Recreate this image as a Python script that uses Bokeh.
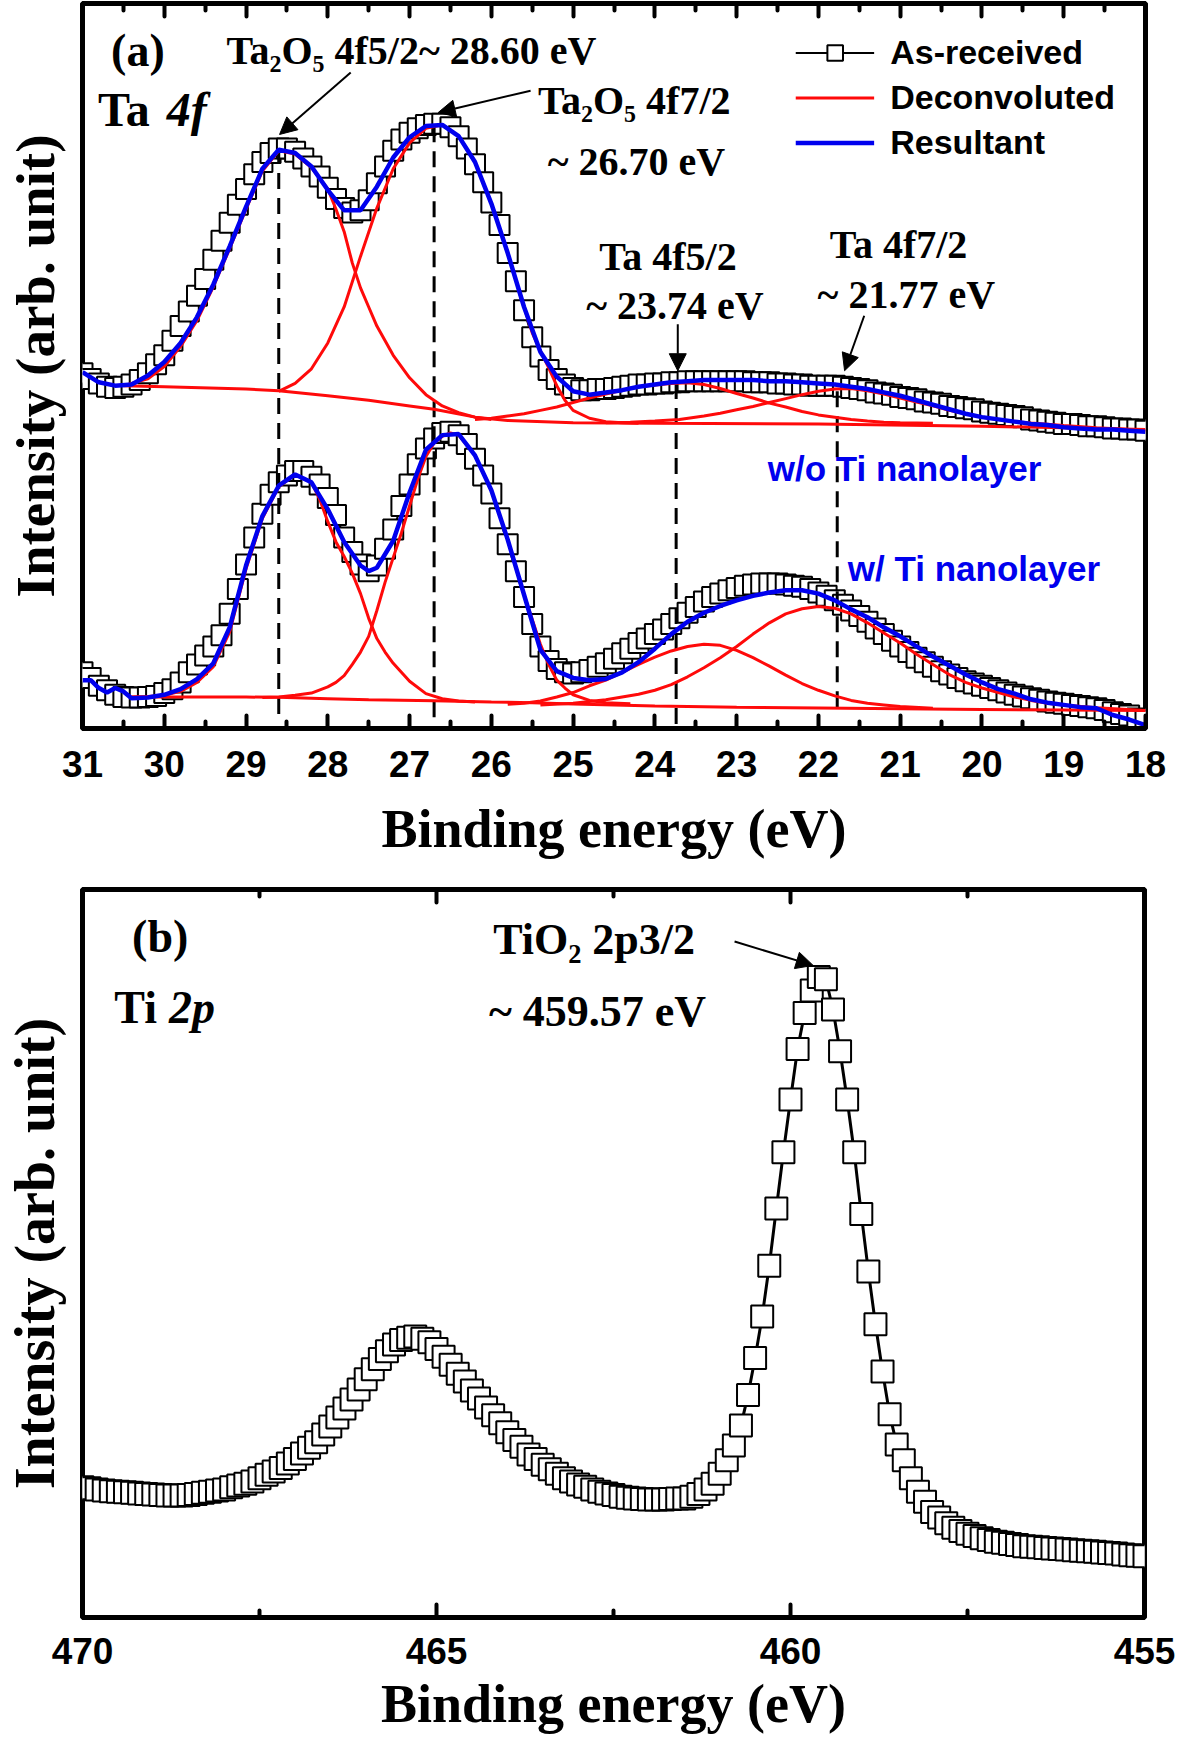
import numpy as np
from bokeh.plotting import figure
from bokeh.models import (Range1d, FixedTicker, LinearAxis, Label, Arrow, NormalHead,
                          Legend, LegendItem)
from bokeh.layouts import column
from bokeh.embed import file_html
from bokeh.resources import INLINE

# ---------------------------------------------------------------- data (a) Ta 4f
energy_a = np.round(np.arange(31.0, 17.95, -0.1), 1)          # 31.0 ... 18.0 eV

asrec_wo_ti = [
    316, 311, 307, 304, 303, 304, 306, 310, 316, 324,
    332, 345, 358, 371, 385, 400, 417, 434, 450, 466,
    480, 493, 504, 512, 516, 516, 513, 507, 500, 491,
    481, 471, 463, 459, 461, 470, 485, 500, 514, 524,
    530, 534, 537, 538, 538, 535, 527, 516, 502, 486,
    468, 448, 423, 398, 372, 348, 331, 319, 311, 306,
    303, 301, 301, 302, 302, 303, 304, 305, 306, 306,
    307, 307, 308, 308, 309, 309, 309, 309, 309, 309,
    309, 309, 308, 308, 308, 307, 307, 306, 306, 305,
    305, 305, 305, 304, 303, 302, 301, 299, 298, 297,
    295, 294, 293, 291, 290, 289, 287, 286, 285, 284,
    282, 281, 280, 279, 278, 277, 275, 274, 273, 272,
    271, 271, 270, 269, 269, 268, 267, 267, 266, 266,
    265]

asrec_w_ti = [
    50, 45, 38, 34, 30, 28, 27.5, 27.5, 28, 29,
    31.5, 35, 41, 50, 57, 65, 73, 83, 102, 124,
    146, 170, 191, 208, 219, 225, 229, 229, 224, 217,
    205, 190, 170, 157, 146, 140, 145, 160, 177, 198,
    217, 235, 249, 258, 263, 264, 261, 253, 240, 225,
    209, 187, 164, 140, 117, 93, 73, 60, 53, 50,
    49, 50, 52, 55, 58, 62, 67, 71, 76, 80,
    84, 88, 93, 98, 103, 108, 113, 117, 120, 123,
    125, 127, 128, 129, 129, 129, 128, 127, 126, 124,
    121, 118, 114, 110, 105, 100, 95, 89, 84, 78,
    73, 68, 63, 59, 55, 51, 48, 45, 42, 40,
    38, 36, 34, 32, 30, 28.5, 27, 25.5, 24, 23,
    22, 21, 20, 19, 18, 16.5, 14.5, 13, 11.5, 9,
    7]

# resultant (blue) curves
res_wo_ti_E = np.round(np.arange(31.0, 17.9, -0.2), 1)
res_wo_ti = [317, 308, 305, 306, 314, 326, 343, 366, 395, 429,
             464, 498, 515, 512, 500, 479, 461, 461, 482, 508,
             526, 536, 537, 527, 504, 467, 423, 375, 335, 313,
             300, 297, 299, 301, 304, 306, 308, 309, 310, 310,
             310, 310, 309, 309, 308, 307, 306, 304, 302, 299,
             296, 292, 288, 284, 280, 277, 275, 273, 271, 270,
             268, 267, 266, 266, 265, 264]

res_w_ti_E = [31.0, 30.9, 30.8, 30.7, 30.6, 30.5, 30.4, 30.2, 30.0, 29.8,
              29.6, 29.4, 29.2, 29.0, 28.8, 28.6, 28.4, 28.2, 28.0, 27.8,
              27.6, 27.5, 27.4, 27.2, 27.0, 26.8, 26.6, 26.4, 26.2, 26.0,
              25.8, 25.6, 25.4, 25.2, 25.0, 24.8, 24.6, 24.4, 24.2, 24.0,
              23.8, 23.6, 23.4, 23.2, 23.0, 22.8, 22.6, 22.4, 22.2, 22.0,
              21.8, 21.6, 21.4, 21.2, 21.0, 20.8, 20.6, 20.4, 20.2, 20.0,
              19.8, 19.6, 19.4, 19.2, 19.0, 18.8, 18.6, 18.4, 18.2, 18.0]
res_w_ti = [43, 43, 36, 32, 36, 33, 27, 27.5, 30, 35,
            44, 58, 90, 145, 189, 216, 226, 219, 195, 166,
            145, 140, 143, 167, 210, 248, 261, 262, 243, 212,
            168, 119, 70, 51, 45, 43, 44, 50, 59, 71,
            84, 95, 103, 109, 114, 118, 121, 123, 123, 120,
            114, 106, 99, 90, 82, 73, 64, 56, 48, 41,
            35, 31, 26, 23, 21, 19, 18, 12, 8, 3]

# deconvoluted (red) components, w/o Ti nanolayer
bg_wo_E = [30.5, 30.0, 29.0, 28.6, 28.0, 27.5, 27.0, 26.7, 26.2, 25.8, 25.0, 24.0, 22.0, 20.0, 19.0, 18.0]
bg_wo = [305, 304, 302, 300.5, 296, 292, 287, 284, 277, 274, 272, 271.5, 271, 269, 267.5, 266]

ox52_wo_E = [30.5, 30.2, 30.0, 29.8, 29.6, 29.4, 29.2, 29.0, 28.8, 28.6, 28.4, 28.2, 28.0,
             27.9, 27.8, 27.7, 27.6, 27.5, 27.4, 27.2, 27.0, 26.8, 26.6, 26.4, 26.2, 26.0]
ox52_wo = [305, 311, 322, 340, 363, 393, 427, 462, 496, 514, 511, 499, 480,
           462, 442, 414, 392, 375, 358, 332, 312, 297, 287, 281, 277, 275]

ox72_wo_E = [28.6, 28.4, 28.2, 28.0, 27.8, 27.6, 27.4, 27.2, 27.0, 26.8, 26.6, 26.4, 26.2,
             26.0, 25.8, 25.6, 25.5, 25.4, 25.3, 25.2, 25.1, 25.0, 24.8, 24.6, 24.4, 24.2]
ox72_wo = [300, 307, 320, 343, 375, 420, 463, 498, 521, 534, 537, 527, 504,
           467, 423, 375, 352, 336, 321, 305, 292, 283, 276, 273, 272, 271.5]

m52_wo_E = [26.2, 26.0, 25.8, 25.6, 25.4, 25.2, 25.0, 24.8, 24.6, 24.4, 24.2, 24.0, 23.8, 23.6,
            23.4, 23.2, 23.0, 22.8, 22.6, 22.4, 22.2, 22.0, 21.8, 21.6, 21.4, 21.2, 21.0, 20.6]
m52_wo = [275, 276, 278, 280, 283, 286, 290, 294, 297.5, 301, 304, 305.5, 307, 307.5,
          306, 302.5, 298, 294, 289.5, 286, 282, 279, 277, 275, 273.5, 272.5, 272, 271.5]

m72_wo_E = [24.6, 24.3, 24.0, 23.7, 23.4, 23.2, 23.0, 22.8, 22.6, 22.4, 22.2, 22.0, 21.8, 21.6, 21.4,
            21.2, 21.0, 20.8, 20.6, 20.4, 20.2, 20.0, 19.8, 19.6, 19.4, 19.0, 18.6, 18.3, 18.0]
m72_wo = [272, 272.4, 273.5, 275, 278, 280.5, 283.5, 286.5, 290, 293.5, 297, 300, 302, 302.5, 300.5,
          297.5, 294, 290.5, 287, 283, 280, 277, 275, 273, 271.8, 269.5, 267.5, 266.5, 265]

# deconvoluted (red) components, w/ Ti nanolayer
bg_w_E = [30.4, 30.0, 29.0, 28.6, 28.0, 27.5, 26.7, 26.0, 25.5, 25.0, 24.0, 23.0, 22.0, 21.0, 20.0, 19.0, 18.0]
bg_w = [28, 28, 28, 27.7, 26.5, 25.5, 24.7, 23.5, 23, 21.7, 20, 19, 18.3, 17.5, 17, 16.5, 16]

ox52_w_E = [30.4, 30.2, 30.0, 29.8, 29.6, 29.4, 29.2, 29.0, 28.8, 28.6, 28.4, 28.2, 28.1, 28.0,
            27.9, 27.8, 27.7, 27.6, 27.5, 27.4, 27.3, 27.2, 27.0, 26.8, 26.6, 26.4, 26.2]
ox52_w = [28, 28.5, 29.5, 33, 41, 55, 86, 142, 187, 215, 226, 219, 204, 184,
          166, 153, 138, 120, 98, 80, 68, 58, 42, 31, 26.5, 24.5, 23.5]

ox72_w_E = [28.8, 28.6, 28.4, 28.2, 28.0, 27.9, 27.8, 27.7, 27.6, 27.5, 27.4, 27.3, 27.2, 27.1, 27.0,
            26.9, 26.8, 26.7, 26.6, 26.5, 26.4, 26.2, 26.0, 25.8, 25.6, 25.4, 25.3, 25.2, 25.1, 25.0,
            24.8, 24.6, 24.3]
ox72_w = [27.5, 28, 29.5, 31.5, 37, 41, 47, 57, 68, 82, 105, 130, 152, 174, 198,
          222, 242, 254, 260, 263, 261, 243, 212, 168, 119, 75, 57, 43, 36, 30,
          25, 23, 22]

m52_w_E = [25.8, 25.6, 25.4, 25.2, 25.0, 24.8, 24.6, 24.4, 24.2, 24.0, 23.8, 23.6, 23.4,
           23.2, 23.0, 22.8, 22.6, 22.4, 22.2, 22.0, 21.8, 21.6, 21.4, 21.2, 21.0, 20.6]
m52_w = [21.5, 22.5, 24.5, 28, 32, 38, 43, 50, 57, 63.5, 69, 73, 75,
         74, 69.5, 63, 55.5, 47.5, 40, 34, 29, 25, 22.5, 21, 19.5, 18]

m72_w_E = [25.4, 25.0, 24.6, 24.2, 24.0, 23.8, 23.6, 23.4, 23.2, 23.0, 22.8, 22.6, 22.4, 22.2, 22.0, 21.8,
           21.6, 21.4, 21.2, 21.0, 20.8, 20.6, 20.4, 20.2, 20.0, 19.8, 19.6, 19.4, 19.2, 19.0, 18.6, 18.0]
m72_w = [21, 22.5, 25.5, 30.5, 34, 39, 46, 54, 63, 73, 84, 94, 102, 106.5, 108.5, 107,
         102, 94, 85, 76, 66, 57, 48, 41, 36, 32, 28, 25, 22.5, 21, 18.5, 16]

# peak markers (dashed guides)
peak_E = [28.60, 26.70, 23.74, 21.77]
peak_top = [513, 536, 311, 305]
peak_bottom = [13, 10, 4, 19]

ticks_a = [31, 30, 29, 28, 27, 26, 25, 24, 23, 22, 21, 20, 19, 18]
minor_a = [30.5, 29.5, 28.5, 27.5, 26.5, 25.5, 24.5, 23.5, 22.5, 21.5, 20.5, 19.5, 18.5]

# ---------------------------------------------------------------- data (b) Ti 2p
energy_b = np.round(np.arange(470.0, 454.95, -0.1), 1)        # 470.0 ... 455.0 eV
asrec_ti2p = [
    80, 79, 78, 77, 76.5, 76, 75.5, 75, 74.5, 74,
    73.5, 73, 72.5, 72.5, 72.5, 73, 74, 75, 76, 77,
    78, 80, 81.5, 83, 85, 88, 91, 94, 97, 101,
    105, 110, 115, 120, 127, 134, 142, 150, 158, 167,
    176, 185, 194, 201, 207, 211, 213, 214, 212, 209,
    203, 196, 189, 181, 174, 166, 159, 151, 144, 137,
    129, 122, 116, 109, 105, 100, 96, 92, 88, 85,
    82.5, 80.5, 78, 76, 74.5, 73, 71.5, 70.5, 70, 69.5,
    69, 69, 69, 69.5, 70, 70, 71.5, 74, 78, 83,
    92, 104, 117, 135, 162, 195, 232, 277, 328, 378,
    425, 470, 502, 522, 534, 532, 505, 468, 425, 378,
    323, 272, 225, 183, 145, 118, 104, 88, 76, 67,
    58, 53, 48, 44, 41, 38.5, 36.5, 34.5, 33, 31.5,
    30.5, 29.5, 28.5, 27.5, 27, 26.5, 26, 25.5, 25, 24.5,
    24, 23.5, 23, 22.5, 22, 21.5, 21, 20, 19.5, 19,
    18.5]
ticks_b = [470, 465, 460, 455]
minor_b = [467.5, 462.5, 457.5]

# ---------------------------------------------------------------- styles
RED = "#ff0a0a"
BLUE = "#0000ee"
SERIF = "Liberation Serif"
SANS = "Liberation Sans"


def style_frame(p):
    p.outline_line_color = "black"
    p.outline_line_width = 5
    p.xgrid.visible = False
    p.ygrid.visible = False
    p.background_fill_color = "white"
    p.border_fill_color = "white"


def style_xaxis(ax, ticks, minor, lab_standoff, title_standoff, show_labels=True):
    ax.ticker = FixedTicker(ticks=ticks, minor_ticks=minor)
    ax.axis_line_color = "black"
    ax.axis_line_width = 5
    ax.major_tick_in = 13
    ax.major_tick_out = 0
    ax.major_tick_line_width = 4
    ax.major_tick_line_cap = "round"
    ax.minor_tick_in = 7
    ax.minor_tick_out = 0
    ax.minor_tick_line_width = 4
    ax.minor_tick_line_cap = "round"
    if show_labels:
        ax.major_label_text_font = SANS
        ax.major_label_text_font_style = "bold"
        ax.major_label_text_font_size = "37px"
        ax.major_label_text_color = "black"
        ax.major_label_standoff = lab_standoff
        ax.axis_label = "Binding energy (eV)"
        ax.axis_label_text_font = SERIF
        ax.axis_label_text_font_style = "bold"
        ax.axis_label_text_font_size = "54px"
        ax.axis_label_text_color = "black"
        ax.axis_label_standoff = title_standoff
    else:
        ax.major_label_text_font_size = "0px"
        ax.major_label_text_color = None
        ax.major_label_standoff = 0


def style_yaxis(ax, size, standoff):
    ax.ticker = FixedTicker(ticks=[])
    ax.axis_line_color = None
    ax.major_tick_line_color = None
    ax.minor_tick_line_color = None
    ax.major_label_text_font_size = "0px"
    ax.major_label_standoff = 0
    ax.axis_label = "Intensity (arb. unit)"
    ax.axis_label_text_font = SERIF
    ax.axis_label_text_font_style = "bold"
    ax.axis_label_text_font_size = size
    ax.axis_label_text_color = "black"
    ax.axis_label_standoff = standoff


def add_label(p, x, y, text, size, font=SERIF, style="bold", color="black"):
    # y is the text baseline
    p.add_layout(Label(x=x, y=y, text=text, text_font=font, text_font_style=style,
                       text_font_size=size, text_color=color, text_align="left",
                       text_baseline="alphabetic"))


def add_arrow(p, xs, ys, xe, ye):
    p.add_layout(Arrow(end=NormalHead(size=17, fill_color="black", line_color="black", line_width=1),
                       x_start=xs, y_start=ys, x_end=xe, y_end=ye,
                       line_color="black", line_width=2))


# ---------------------------------------------------------------- panel (a)
pa = figure(frame_width=1063, frame_height=725, x_range=Range1d(31, 18), y_range=Range1d(0, 645),
            output_backend="svg", toolbar_location=None,
            min_border_left=80, min_border_right=32, min_border_top=3, min_border_bottom=150)
style_frame(pa)
style_xaxis(pa.xaxis[0], ticks_a, minor_a, 22, 19)
top_a = LinearAxis()
style_xaxis(top_a, ticks_a, minor_a, 0, 0, show_labels=False)
pa.add_layout(top_a, "above")
style_yaxis(pa.yaxis[0], "55px", 17)

# as-received spectra
l_up = pa.line(energy_a, asrec_wo_ti, line_color="black", line_width=2)
s_up = pa.scatter(energy_a, asrec_wo_ti, marker="square", size=20, fill_color="white",
                  line_color="black", line_width=2)
pa.line(energy_a, asrec_w_ti, line_color="black", line_width=2)
pa.scatter(energy_a, asrec_w_ti, marker="square", size=20, fill_color="white",
           line_color="black", line_width=2)

# dashed peak guides
pa.segment(x0=peak_E, y0=peak_bottom, x1=peak_E, y1=peak_top, line_color="black",
           line_width=3, line_dash="16 9")

# deconvoluted components
red_r = None
for xs, ys in [(bg_wo_E, bg_wo), (ox52_wo_E, ox52_wo), (ox72_wo_E, ox72_wo), (m52_wo_E, m52_wo),
               (m72_wo_E, m72_wo), (bg_w_E, bg_w), (ox52_w_E, ox52_w), (ox72_w_E, ox72_w),
               (m52_w_E, m52_w), (m72_w_E, m72_w)]:
    r = pa.line(xs, ys, line_color=RED, line_width=3)
    if red_r is None:
        red_r = r

# resultant
blue_r = pa.line(res_wo_ti_E, res_wo_ti, line_color=BLUE, line_width=4.5)
pa.line(res_w_ti_E, res_w_ti, line_color=BLUE, line_width=4.5)

legend = Legend(items=[LegendItem(label="As-received", renderers=[l_up, s_up]),
                       LegendItem(label="Deconvoluted", renderers=[red_r]),
                       LegendItem(label="Resultant", renderers=[blue_r])],
                location="top_right", margin=30, padding=4, spacing=6,
                glyph_width=79, glyph_height=39, label_height=39, label_standoff=16,
                label_text_font=SANS, label_text_font_style="bold", label_text_font_size="34px",
                label_text_color="black", border_line_color=None, background_fill_alpha=0)
pa.add_layout(legend)

# annotations (a)  (x = left edge in eV, y = baseline)
add_label(pa, 30.65, 603, "(a)", "46px")
add_label(pa, 30.81, 551, "Ta", "48px")
add_label(pa, 29.97, 551, "4f", "48px", style="bold italic")
add_label(pa, 29.24, 603, "Ta\u2082O\u2085 4f5/2~ 28.60 eV", "40px")
add_label(pa, 25.43, 559, "Ta\u2082O\u2085 4f7/2", "40px")
add_label(pa, 25.31, 504, "~ 26.70 eV", "40px")
add_label(pa, 24.68, 420, "Ta 4f5/2", "40px")
add_label(pa, 24.84, 376, "~ 23.74 eV", "40px")
add_label(pa, 21.86, 431, "Ta 4f7/2", "40px")
add_label(pa, 22.01, 386, "~ 21.77 eV", "40px")
add_label(pa, 22.62, 231, "w/o Ti nanolayer", "35px", font=SANS, color=BLUE)
add_label(pa, 21.64, 142, "w/ Ti nanolayer", "35px", font=SANS, color=BLUE)

add_arrow(pa, 27.72, 583.6, 28.59, 528.5)
add_arrow(pa, 25.52, 567.4, 26.65, 548.0)
add_arrow(pa, 23.72, 359.7, 23.72, 318.3)
add_arrow(pa, 21.44, 367.2, 21.68, 318.3)

# ---------------------------------------------------------------- panel (b)
pb = figure(frame_width=1062, frame_height=728, x_range=Range1d(470, 455), y_range=Range1d(-35.95, 611.85),
            output_backend="svg", toolbar_location=None,
            min_border_left=81, min_border_right=32, min_border_top=11, min_border_bottom=129)
style_frame(pb)
style_xaxis(pb.xaxis[0], ticks_b, minor_b, 20, 7)
top_b = LinearAxis()
style_xaxis(top_b, ticks_b, minor_b, 0, 0, show_labels=False)
pb.add_layout(top_b, "above")
style_yaxis(pb.yaxis[0], "56px", 17)

pb.line(energy_b, asrec_ti2p, line_color="black", line_width=3)
pb.scatter(energy_b, asrec_ti2p, marker="square", size=22, fill_color="white",
           line_color="black", line_width=2)

add_label(pb, 469.30, 570, "(b)", "46px")
add_label(pb, 469.55, 507, "Ti", "46px")
add_label(pb, 468.78, 507, "2p", "46px", style="bold italic")
add_label(pb, 464.20, 567, "TiO\u2082 2p3/2", "44px")
add_label(pb, 464.26, 503, "~ 459.57 eV", "44px")
add_arrow(pb, 460.79, 565.6, 459.68, 544.3)

layout = column(pa, pb)
open("out.html", "w").write(file_html(layout, INLINE))
